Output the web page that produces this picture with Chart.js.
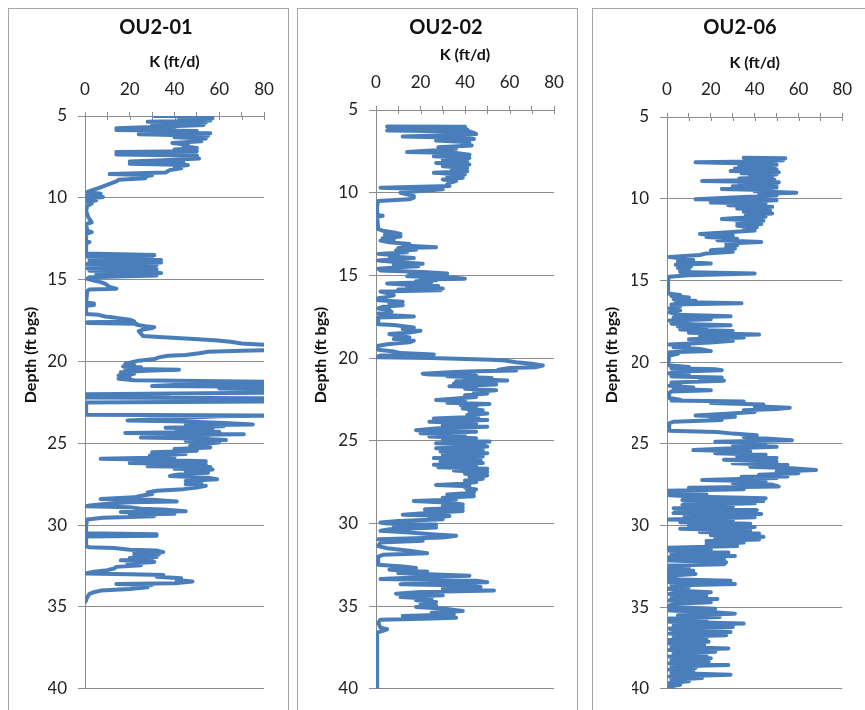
<!DOCTYPE html>
<html>
<head>
<meta charset="utf-8">
<script src="https://cdn.jsdelivr.net/npm/chart.js@4.4.0/dist/chart.umd.min.js"></script>
<style>
  html, body { margin: 0; padding: 0; background: #fff; overflow: hidden; }
  body { width: 865px; height: 710px; position: relative; }
  .panel { position: absolute; top: 8px; height: 720px; border: 1px solid #a6a6a6; box-sizing: border-box; }
  canvas { position: absolute; top: 8px; }
</style>
</head>
<body>
<div class="panel" style="left:8px;width:281px"></div>
<div class="panel" style="left:297px;width:281px"></div>
<div class="panel" style="left:592px;width:280px"></div>
<canvas id="c1" width="280" height="702" style="left:8px"></canvas>
<canvas id="c2" width="279" height="702" style="left:298px"></canvas>
<canvas id="c3" width="273" height="702" style="left:592px"></canvas>
<script>
// well names
const wellNames = ['OU2-01', 'OU2-02', 'OU2-06'];

// axis ranges
const kMin = 0, kMax = 80, kStep = 10, kLabelStep = 20;
const depthMin = 5, depthMax = 40, depthStep = 5;

// [depth (ft bgs), K (ft/d)]
const ou2_01 = [
  [5.0, 31], [5.02, 57], [5.1, 52], [5.15, 57], [5.22, 42], [5.28, 56], [5.35, 28], [5.4, 54], [5.5, 30], [5.55, 53],
  [5.65, 33], [5.75, 14], [5.8, 40], [5.85, 14], [5.92, 50], [6.0, 30], [6.05, 56], [6.12, 24], [6.2, 55], [6.3, 40],
  [6.38, 54], [6.45, 48], [6.55, 52], [6.65, 39], [6.75, 46], [6.85, 44], [6.95, 50], [7.05, 40], [7.15, 50], [7.2, 14],
  [7.3, 45], [7.35, 14], [7.42, 50], [7.5, 43], [7.6, 51], [7.7, 35], [7.78, 20], [7.85, 44], [7.92, 20], [8.0, 46],
  [8.1, 40], [8.2, 43], [8.3, 38], [8.45, 36], [8.55, 11], [8.62, 30], [8.7, 26], [8.8, 27], [8.9, 15], [9.0, 14],
  [9.15, 11], [9.25, 9], [9.4, 6], [9.55, 3], [9.65, 1], [9.75, 7], [9.85, 1], [9.95, 8], [10.05, 1], [10.15, 5],
  [10.25, 1], [10.35, 3], [10.5, 1], [10.8, 0.5], [11.2, 1.5], [11.5, 3], [11.6, 0.5], [12.0, 1], [12.1, 3], [12.2, 0.5],
  [12.6, 0.5], [12.7, 2], [12.8, 0.5], [13.4, 0.5],
  [13.5, 31], [13.55, 8], [13.6, 1], [13.65, 30], [13.75, 20], [13.8, 34], [13.85, 2], [13.95, 34], [14.0, 10], [14.05, 1],
  [14.1, 32], [14.2, 25], [14.3, 1], [14.35, 32], [14.45, 2], [14.5, 30], [14.6, 34], [14.7, 5], [14.75, 32], [14.85, 2],
  [14.95, 1], [15.05, 4], [15.15, 7], [15.25, 9], [15.35, 10], [15.45, 11], [15.55, 14], [15.6, 2], [15.7, 1], [16.4, 0.5],
  [16.45, 4], [16.55, 4], [16.6, 0.5], [17.1, 0.5], [17.15, 6], [17.25, 9], [17.3, 12], [17.35, 15], [17.45, 20], [17.55, 22],
  [17.6, 1], [17.65, 1], [17.7, 23], [17.75, 23], [17.85, 27], [17.9, 31], [17.95, 30], [18.05, 26], [18.15, 24], [18.3, 25],
  [18.45, 26], [18.5, 33], [18.6, 45], [18.7, 58], [18.8, 65], [18.9, 70], [19.0, 84], [19.1, 84], [19.2, 84], [19.3, 84],
  [19.35, 70], [19.4, 55], [19.5, 51], [19.6, 45], [19.65, 37], [19.75, 33], [19.85, 31], [19.95, 24], [20.05, 21], [20.15, 18],
  [20.25, 22], [20.3, 17], [20.35, 25], [20.45, 18], [20.5, 42], [20.55, 30], [20.65, 16], [20.75, 22], [20.85, 15], [20.95, 20],
  [21.05, 15], [21.15, 22], [21.25, 84], [21.35, 84], [21.4, 45], [21.5, 30], [21.55, 84], [21.65, 60], [21.7, 84], [21.8, 84],
  [21.9, 84], [22.0, 0.5], [22.05, 37], [22.1, 30], [22.15, 0], [22.2, 0], [22.25, 84], [22.35, 84], [22.45, 84], [22.5, 0.5],
  [23.25, 0.5], [23.3, 84], [23.35, 60], [23.45, 44], [23.6, 19], [23.65, 40], [23.75, 60], [23.85, 75], [23.9, 45], [23.95, 62],
  [24.05, 36], [24.1, 57], [24.2, 41], [24.3, 60], [24.37, 18], [24.45, 71], [24.5, 30], [24.55, 55], [24.65, 25], [24.7, 50],
  [24.8, 63], [24.85, 45], [24.95, 60], [25.05, 51], [25.15, 47], [25.25, 56], [25.35, 40], [25.45, 50], [25.55, 30], [25.65, 45],
  [25.75, 29], [25.85, 40], [25.95, 7], [26.0, 30], [26.1, 54], [26.2, 20], [26.3, 54], [26.4, 28], [26.45, 56], [26.55, 40],
  [26.6, 57], [26.7, 45], [26.8, 55], [26.9, 42], [27.0, 38], [27.1, 55], [27.2, 59], [27.3, 45], [27.4, 52], [27.5, 45],
  [27.6, 54], [27.7, 50], [27.8, 44], [27.9, 32], [28.0, 28], [28.1, 30], [28.2, 25], [28.3, 22], [28.4, 7], [28.45, 30],
  [28.55, 41], [28.6, 20], [28.7, 10], [28.8, 2], [28.85, 0.5], [28.9, 20], [29.0, 25], [29.05, 35], [29.15, 45], [29.2, 16],
  [29.3, 40], [29.35, 20], [29.45, 31], [29.55, 8], [29.65, 1], [30.0, 0.5], [30.5, 0.5], [30.55, 32], [30.65, 32], [30.7, 0.5],
  [31.3, 0.5], [31.35, 2], [31.4, 13], [31.5, 20], [31.55, 32], [31.65, 35], [31.7, 22], [31.8, 33], [31.85, 22], [31.95, 32],
  [32.0, 20], [32.1, 30], [32.15, 16], [32.25, 31], [32.35, 19], [32.45, 25], [32.55, 14], [32.65, 13], [32.75, 10], [32.85, 4],
  [32.95, 0], [33.0, 20], [33.05, 35], [33.15, 32], [33.25, 43], [33.35, 41], [33.45, 48], [33.55, 40], [33.6, 14], [33.65, 30],
  [33.75, 26], [33.8, 28], [33.9, 20], [34.0, 7], [34.1, 4], [34.2, 2], [34.4, 1], [34.6, 0.5], [34.7, 0]
];

const ou2_02 = [
  [6.0, 5], [6.02, 40], [6.08, 38], [6.12, 12], [6.18, 41], [6.24, 5], [6.3, 42], [6.38, 44], [6.45, 45], [6.52, 30],
  [6.6, 12], [6.68, 40], [6.75, 44], [6.85, 27], [6.95, 42], [7.05, 40], [7.15, 43], [7.25, 28], [7.35, 36], [7.45, 25],
  [7.54, 14], [7.6, 36], [7.7, 42], [7.8, 26], [7.9, 42], [8.0, 30], [8.1, 41], [8.2, 27], [8.3, 42], [8.4, 30],
  [8.5, 41], [8.6, 34], [8.7, 41], [8.8, 26], [8.9, 40], [9.0, 32], [9.1, 39], [9.2, 30], [9.3, 36], [9.4, 33],
  [9.5, 32], [9.6, 33], [9.7, 2], [9.8, 30], [9.9, 20], [10.0, 11], [10.1, 14], [10.2, 17], [10.3, 17], [10.4, 15],
  [10.5, 1], [10.8, 0.5], [11.35, 0.5], [11.4, 3], [11.45, 0.5], [12.2, 1], [12.3, 3], [12.4, 8], [12.5, 11], [12.55, 4],
  [12.65, 11], [12.75, 3], [12.85, 8], [12.9, 2], [13.0, 6], [13.1, 15], [13.2, 12], [13.3, 27], [13.35, 10], [13.45, 18],
  [13.5, 9], [13.6, 14], [13.7, 1], [13.8, 10], [13.85, 6], [13.95, 17], [14.05, 6], [14.1, 1], [14.2, 10], [14.3, 21],
  [14.35, 8], [14.45, 19], [14.5, 12], [14.6, 1], [14.7, 2], [14.79, 21], [14.89, 32], [14.95, 15], [15.0, 28], [15.05, 14],
  [15.15, 35], [15.2, 40], [15.25, 20], [15.3, 27], [15.35, 18], [15.4, 25], [15.49, 5], [15.55, 12], [15.65, 28], [15.7, 14],
  [15.8, 30], [15.85, 10], [15.9, 29], [15.98, 2], [16.1, 6], [16.2, 8], [16.3, 5], [16.38, 1], [16.5, 1], [16.6, 12],
  [16.7, 6], [16.8, 12], [16.9, 3], [17.0, 1], [17.1, 6], [17.2, 7], [17.3, 1], [17.4, 4], [17.48, 17], [17.55, 1],
  [17.95, 1], [18.0, 8], [18.15, 17], [18.25, 12], [18.35, 20], [18.45, 15], [18.55, 6], [18.65, 10], [18.75, 15], [18.85, 8],
  [18.95, 17], [19.05, 15], [19.15, 6], [19.25, 1], [19.5, 1], [19.6, 8], [19.7, 11], [19.78, 26], [19.85, 2], [19.95, 0],
  [20.0, 25], [20.05, 40], [20.1, 52], [20.15, 58], [20.25, 63], [20.35, 70], [20.45, 75], [20.55, 72], [20.6, 60], [20.7, 55],
  [20.75, 63], [20.8, 45], [20.85, 35], [20.95, 21], [21.0, 24], [21.05, 45], [21.1, 32], [21.2, 52], [21.25, 40], [21.35, 59],
  [21.4, 36], [21.45, 50], [21.55, 35], [21.6, 54], [21.7, 33], [21.75, 45], [21.85, 40], [21.95, 54], [22.05, 44], [22.15, 50],
  [22.25, 40], [22.35, 45], [22.45, 36], [22.54, 27], [22.6, 40], [22.7, 32], [22.78, 51], [22.85, 38], [22.95, 45], [23.05, 39],
  [23.15, 48], [23.25, 42], [23.35, 50], [23.45, 41], [23.55, 46], [23.65, 26], [23.75, 50], [23.85, 24], [23.95, 45], [24.05, 30],
  [24.15, 50], [24.25, 28], [24.37, 18], [24.45, 45], [24.55, 20], [24.65, 40], [24.75, 24], [24.85, 45], [24.95, 30], [25.05, 51],
  [25.15, 27], [25.25, 48], [25.35, 50], [25.45, 27], [25.55, 48], [25.65, 29], [25.75, 50], [25.85, 30], [25.95, 48], [26.05, 26],
  [26.15, 47], [26.25, 29], [26.35, 48], [26.45, 26], [26.55, 45], [26.6, 28], [26.7, 50], [26.8, 35], [26.9, 50], [27.0, 40],
  [27.1, 50], [27.2, 42], [27.3, 48], [27.4, 40], [27.5, 45], [27.6, 39], [27.67, 27], [27.75, 42], [27.85, 40], [27.95, 45],
  [28.05, 41], [28.15, 44], [28.25, 32], [28.35, 44], [28.45, 30], [28.55, 36], [28.65, 17], [28.75, 33], [28.85, 39], [28.95, 30],
  [29.05, 39], [29.15, 22], [29.25, 39], [29.35, 25], [29.47, 12], [29.55, 33], [29.65, 24], [29.75, 30], [29.85, 10], [29.95, 2],
  [30.0, 5], [30.07, 27], [30.15, 8], [30.25, 27], [30.35, 6], [30.45, 2], [30.55, 15], [30.65, 25], [30.75, 36], [30.85, 30],
  [30.95, 1], [31.05, 21], [31.15, 2], [31.37, 1], [31.5, 5], [31.65, 15], [31.8, 23], [31.9, 3], [32.0, 1], [32.5, 1],
  [32.6, 12], [32.7, 18], [32.8, 6], [32.9, 23], [33.0, 10], [33.1, 30], [33.16, 42], [33.25, 20], [33.36, 2], [33.46, 45],
  [33.56, 50], [33.6, 25], [33.68, 11], [33.75, 40], [33.85, 47], [33.95, 30], [34.05, 53], [34.15, 20], [34.25, 9], [34.35, 30],
  [34.45, 11], [34.55, 25], [34.65, 18], [34.75, 27], [34.85, 20], [34.96, 27], [35.05, 18], [35.15, 30], [35.3, 39], [35.4, 25],
  [35.5, 35], [35.6, 12], [35.7, 36], [35.75, 25], [35.82, 2], [36.0, 1], [36.3, 2], [36.4, 5], [36.5, 3], [36.6, 0.5],
  [40.0, 0.5]
];

const ou2_06 = [
  [7.5, 35], [7.52, 54], [7.58, 37], [7.65, 53], [7.72, 40], [7.77, 13], [7.85, 38], [7.92, 50], [8.0, 33], [8.08, 49],
  [8.15, 31], [8.22, 50], [8.3, 29], [8.38, 51], [8.45, 34], [8.52, 50], [8.6, 38], [8.68, 48], [8.76, 33], [8.84, 49],
  [8.92, 16], [9.0, 51], [9.08, 33], [9.16, 50], [9.24, 30], [9.32, 50], [9.4, 25], [9.48, 48], [9.55, 40], [9.63, 59],
  [9.7, 42], [9.8, 50], [9.9, 35], [10.03, 13], [10.1, 50], [10.18, 30], [10.24, 20], [10.3, 45], [10.4, 28], [10.5, 48],
  [10.6, 32], [10.7, 47], [10.8, 35], [10.9, 48], [11.0, 36], [11.1, 45], [11.2, 30], [11.25, 25], [11.35, 44], [11.45, 32],
  [11.55, 43], [11.65, 32], [11.75, 41], [11.85, 35], [11.95, 40], [12.05, 28], [12.16, 15], [12.25, 30], [12.35, 18], [12.45, 32],
  [12.55, 23], [12.65, 43], [12.75, 27], [12.85, 32], [12.95, 27], [13.05, 31], [13.15, 20], [13.25, 30], [13.35, 18], [13.45, 15],
  [13.57, 1], [13.65, 6], [13.75, 12], [13.85, 5], [13.97, 20], [14.05, 4], [14.15, 11], [14.25, 5], [14.35, 10], [14.48, 6],
  [14.58, 40], [14.68, 10], [14.78, 1], [15.0, 0.5], [15.8, 0.5], [15.89, 6], [15.95, 2], [16.05, 10], [16.15, 3], [16.25, 13],
  [16.32, 4], [16.4, 34], [16.48, 2], [16.6, 6], [16.7, 1], [16.85, 6], [16.95, 1], [17.1, 5], [17.2, 29], [17.28, 3],
  [17.38, 20], [17.45, 1], [17.55, 10], [17.65, 2], [17.75, 29], [17.82, 5], [17.9, 18], [18.0, 6], [18.1, 30], [18.2, 10],
  [18.32, 42], [18.4, 15], [18.5, 35], [18.6, 10], [18.7, 30], [18.8, 20], [18.92, 1], [19.0, 10], [19.1, 3], [19.2, 15],
  [19.33, 20], [19.4, 1], [19.5, 5], [19.6, 1], [20.2, 0.5], [20.3, 10], [20.38, 2], [20.44, 22], [20.5, 25], [20.6, 3],
  [20.7, 1], [20.8, 10], [20.88, 2], [20.95, 25], [21.05, 15], [21.15, 26], [21.25, 2], [21.35, 6], [21.45, 1], [21.55, 12],
  [21.65, 3], [21.72, 20], [21.8, 2], [21.9, 1], [22.2, 1], [22.3, 6], [22.36, 2], [22.42, 35], [22.5, 20], [22.6, 44],
  [22.7, 40], [22.8, 56], [22.87, 50], [22.95, 35], [23.05, 40], [23.15, 29], [23.27, 13], [23.35, 31], [23.45, 20], [23.55, 25],
  [23.65, 3], [23.75, 1], [24.2, 1], [24.28, 23], [24.38, 30], [24.48, 41], [24.58, 35], [24.68, 45], [24.79, 57], [24.88, 22],
  [24.95, 45], [25.05, 30], [25.19, 50], [25.28, 30], [25.39, 12], [25.48, 38], [25.58, 22], [25.68, 45], [25.78, 32], [25.88, 50],
  [25.98, 26], [26.1, 50], [26.2, 30], [26.3, 55], [26.41, 38], [26.5, 57], [26.61, 68], [26.7, 50], [26.8, 60], [26.9, 42],
  [27.0, 55], [27.02, 34], [27.1, 50], [27.22, 16], [27.3, 45], [27.4, 30], [27.5, 48], [27.62, 51], [27.7, 10], [27.78, 35],
  [27.87, 0], [27.95, 1], [28.0, 10], [28.1, 18], [28.15, 1], [28.25, 15], [28.33, 45], [28.4, 31], [28.45, 7], [28.5, 44],
  [28.58, 8], [28.65, 40], [28.75, 7], [28.85, 30], [28.95, 3], [29.05, 41], [29.14, 5], [29.24, 3], [29.3, 43], [29.4, 8],
  [29.5, 40], [29.64, 0], [29.7, 30], [29.8, 6], [29.9, 38], [30.0, 10], [30.1, 40], [30.2, 6], [30.3, 38], [30.4, 15],
  [30.5, 42], [30.6, 20], [30.7, 44], [30.8, 22], [30.86, 42], [30.95, 18], [31.05, 35], [31.15, 18], [31.26, 32], [31.36, 0.5],
  [31.45, 20], [31.55, 1], [31.65, 28], [31.75, 2], [31.87, 31], [31.95, 1], [32.05, 26], [32.15, 1], [32.25, 27], [32.37, 26],
  [32.45, 1], [32.58, 10], [32.68, 0.5], [32.78, 12], [32.88, 1], [32.98, 13], [33.08, 0.5], [33.18, 4], [33.3, 0.5], [33.38, 29],
  [33.48, 1], [33.58, 31], [33.68, 2], [33.78, 10], [33.88, 0.5], [33.98, 4], [34.09, 20], [34.19, 1], [34.29, 18], [34.39, 2],
  [34.5, 23], [34.6, 1], [34.7, 20], [34.8, 4], [34.9, 1], [35.0, 0.5], [35.1, 22], [35.2, 1], [35.3, 20], [35.4, 31],
  [35.5, 5], [35.6, 24], [35.7, 1], [35.8, 18], [35.9, 1], [36.01, 35], [36.11, 3], [36.21, 30], [36.31, 1], [36.42, 4],
  [36.52, 29], [36.62, 1], [36.72, 27], [36.82, 3], [36.92, 18], [37.02, 1], [37.12, 19], [37.22, 1], [37.32, 17], [37.42, 2],
  [37.53, 28], [37.63, 1], [37.73, 22], [37.83, 3], [37.93, 18], [38.03, 1], [38.13, 20], [38.23, 2], [38.33, 19], [38.43, 1],
  [38.54, 28], [38.64, 2], [38.74, 13], [38.84, 1], [38.94, 12], [39.04, 2], [39.14, 29], [39.24, 1], [39.34, 16], [39.44, 2],
  [39.54, 10], [39.64, 1], [39.75, 6], [39.85, 1], [39.95, 3]
];

const lineColor = '#4a7ebb';
const gridColor = '#8c8c8c';
const fontFamily = 'Lato, "Open Sans", sans-serif';

const toPoints = (rows) => rows.map(([d, k]) => ({ x: k, y: d }));

// short tick marks on the inside of the top axis
const innerTicks = {
  id: 'innerTicks',
  beforeDatasetsDraw(chart) {
    const { ctx, chartArea, scales } = chart;
    ctx.save();
    ctx.strokeStyle = gridColor;
    ctx.lineWidth = 1;
    scales.x.ticks.forEach((t) => {
      const x = Math.round(scales.x.getPixelForValue(t.value)) + 0.5;
      ctx.beginPath();
      ctx.moveTo(x, chartArea.top);
      ctx.lineTo(x, chartArea.top + 4);
      ctx.stroke();
    });
    ctx.restore();
  }
};

// depth label, sits higher than the axis middle as in the original
const sideLabel = {
  id: 'sideLabel',
  afterDraw(chart, args, opts) {
    const { ctx } = chart;
    ctx.save();
    ctx.translate(opts.x, opts.y);
    ctx.rotate(-Math.PI / 2);
    ctx.font = 'bold 16px ' + fontFamily;
    ctx.fillStyle = '#111';
    ctx.textAlign = 'center';
    ctx.textBaseline = 'middle';
    ctx.fillText(opts.text, 0, 0);
    ctx.restore();
  }
};

function makeChart(id, title, rows, lay) {
  const ctx = document.getElementById(id).getContext('2d');
  return new Chart(ctx, {
    type: 'scatter',
    data: {
      datasets: [{
        data: toPoints(rows),
        showLine: true,
        borderColor: lineColor,
        borderWidth: 4,
        borderCapStyle: 'round',
        borderJoinStyle: 'round',
        pointRadius: 0,
        tension: 0
      }]
    },
    options: {
      responsive: false,
      animation: false,
      layout: { padding: { left: lay.pl, right: lay.pr, top: 0, bottom: 16 } },
      plugins: {
        legend: { display: false },
        tooltip: { enabled: false },
        title: {
          display: true,
          text: title,
          color: '#111',
          font: { family: fontFamily, size: 20, weight: 'bold' },
          padding: { top: 8, bottom: 0 }
        },
        sideLabel: { text: 'Depth (ft bgs)', x: lay.lx, y: 347 }
      },
      scales: {
        x: {
          type: 'linear',
          position: 'top',
          min: kMin,
          max: kMax,
          afterFit(s) { s.height = lay.xh; },
          border: { color: gridColor, width: 1 },
          grid: { drawOnChartArea: false, drawTicks: true, tickLength: 4, color: gridColor },
          ticks: {
            stepSize: kStep,
            autoSkip: false,
            maxRotation: 0,
            padding: lay.tp,
            color: '#222',
            font: { family: fontFamily, size: 17 },
            callback: (v) => (v % kLabelStep === 0 ? v : '')
          },
          title: {
            display: true,
            text: 'K (ft/d)',
            color: '#111',
            font: { family: fontFamily, size: 16, weight: 'bold' },
            padding: { top: lay.kp, bottom: 0 }
          }
        },
        y: {
          type: 'linear',
          reverse: true,
          min: depthMin,
          max: depthMax,
          afterFit(s) { s.width = lay.yw; },
          border: { color: gridColor, width: 1 },
          grid: { color: gridColor, tickLength: 7 },
          ticks: {
            stepSize: depthStep,
            padding: 11,
            color: '#222',
            font: { family: fontFamily, size: 17 }
          }
        }
      }
    },
    plugins: [innerTicks, sideLabel]
  });
}

makeChart('c1', wellNames[0], ou2_01, { pl: 40, pr: 24, yw: 37, xh: 76, kp: 12.4, tp: 12, lx: 23 });
makeChart('c2', wellNames[1], ou2_02, { pl: 40, pr: 23, yw: 38, xh: 70, kp: 5.4, tp: 12.8, lx: 23 });
makeChart('c3', wellNames[2], ou2_06, { pl: 40, pr: 17, yw: 35, xh: 77, kp: 13.4, tp: 12.8, lx: 20 });
</script>
</body>
</html>
